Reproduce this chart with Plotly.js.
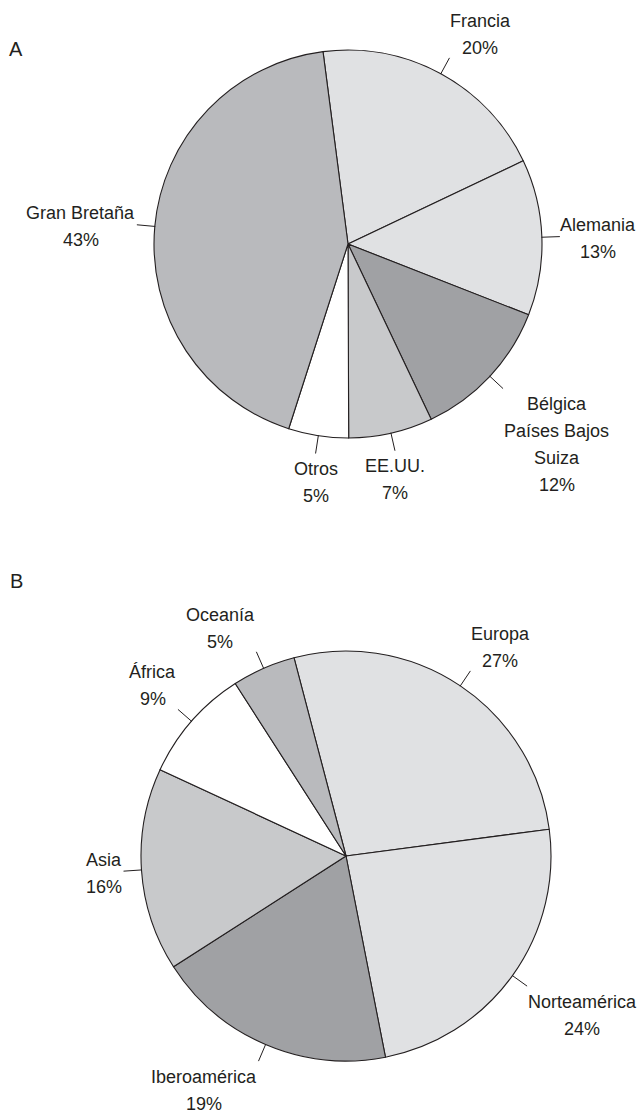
<!DOCTYPE html>
<html><head><meta charset="utf-8">
<script src="https://cdn.plot.ly/plotly-3.0.1.min.js"></script>
<style>html,body{margin:0;padding:0;background:#fff;overflow:hidden}</style>
</head><body><div id="chart" style="width:638px;height:1117px"></div>
<script>
// ---- data ----
const categoriesA = ['Francia', 'Alemania', 'Bélgica<br>Países Bajos<br>Suiza', 'EE.UU.', 'Otros', 'Gran Bretaña'];
const valuesA = [20, 13, 12, 7, 5, 43];
const categoriesB = ['Europa', 'Norteamérica', 'Iberoamérica', 'Asia', 'África', 'Oceanía'];
const valuesB = [27, 24, 19, 16, 9, 5];
const panelTags = ['A', 'B'];

// ---- style / layout ----
const FIG_W = 638, FIG_H = 1117;
const FONT = '"Liberation Sans", Arial, sans-serif';
const FONT_SIZE = 18;
const LINE_H = 27;
const TEXT_COLOR = '#231f20';
const EDGE_COLOR = '#231f20';
const LIGHT = '#e0e1e3', MID = '#c8c9cb', MIDDARK = '#b9babd', DARK = '#a0a1a4', WHITE = '#ffffff';
const colorsA = [LIGHT, LIGHT, DARK, MID, WHITE, MIDDARK];
const colorsB = [LIGHT, LIGHT, DARK, MID, WHITE, MIDDARK];

const pies = [
  {cats: categoriesA, vals: valuesA, colors: colorsA, cx: 348, cy: 244, r: 194, rotation: -7.4, tag: panelTags[0], tagX: 16, tagY: 49},
  {cats: categoriesB, vals: valuesB, colors: colorsB, cx: 346, cy: 856, r: 205, rotation: -14.7, tag: panelTags[1], tagX: 16, tagY: 581}
];

const ctx = document.createElement('canvas').getContext('2d');
ctx.font = FONT_SIZE + 'px "Liberation Sans"';
const px2x = p => p / FIG_W;
const py2y = p => 1 - p / FIG_H;

const traces = [], shapes = [], annotations = [];

pies.forEach(p => {
  traces.push({
    type: 'pie',
    labels: p.cats.map(c => c.replace(/<br>/g, ' ')),
    values: p.vals,
    sort: false,
    direction: 'clockwise',
    rotation: p.rotation,
    textinfo: 'none',
    hoverinfo: 'label+percent',
    marker: {colors: p.colors, line: {color: EDGE_COLOR, width: 1.1}},
    domain: {x: [px2x(p.cx - p.r), px2x(p.cx + p.r)], y: [py2y(p.cy + p.r), py2y(p.cy - p.r)]},
    showlegend: false
  });

  const total = p.vals.reduce((a, b) => a + b, 0);
  let acc = 0;
  p.vals.forEach((v, i) => {
    const mid = (p.rotation + 360 * (acc + v / 2) / total) * Math.PI / 180;
    acc += v;
    const s = Math.sin(mid), c = Math.cos(mid);
    const x0 = p.cx + (p.r - 0.5) * s, y0 = p.cy - (p.r - 0.5) * c;
    const x1 = p.cx + (p.r + 18) * s, y1 = p.cy - (p.r + 18) * c;
    shapes.push({type: 'line', xref: 'paper', yref: 'paper',
      x0: px2x(x0), y0: py2y(y0), x1: px2x(x1), y1: py2y(y1),
      line: {color: EDGE_COLOR, width: 1}});

    const lines = p.cats[i].split('<br>').concat([Math.round(100 * v / total) + '%']);
    const W = Math.max(...lines.map(t => ctx.measureText(t).width));
    const n = lines.length;
    let bcx;
    if (s > 0.3) bcx = x1 + 1 + W / 2;
    else if (s < -0.3) bcx = x1 - 2 - W / 2;
    else bcx = x1;
    let firstCy;
    if (c > 0.3) firstCy = y1 - 10 - (n - 1) * LINE_H;
    else if (c < -0.3) firstCy = y1 + 15.5;
    else firstCy = y1 + 2 - (n - 1) * LINE_H / 2;
    lines.forEach((t, k) => {
      annotations.push({xref: 'paper', yref: 'paper', x: px2x(bcx), y: py2y(firstCy + k * LINE_H),
        xanchor: 'center', yanchor: 'middle', text: t, showarrow: false,
        font: {family: FONT, size: FONT_SIZE, color: TEXT_COLOR}});
    });
  });

  annotations.push({xref: 'paper', yref: 'paper', x: px2x(p.tagX), y: py2y(p.tagY),
    xanchor: 'center', yanchor: 'middle', text: p.tag, showarrow: false,
    font: {family: FONT, size: 20, color: TEXT_COLOR}});
});

Plotly.newPlot('chart', traces, {
  width: FIG_W, height: FIG_H,
  margin: {l: 0, r: 0, t: 0, b: 0},
  paper_bgcolor: '#ffffff',
  shapes: shapes,
  annotations: annotations
}, {staticPlot: true});
</script>
</body></html>
